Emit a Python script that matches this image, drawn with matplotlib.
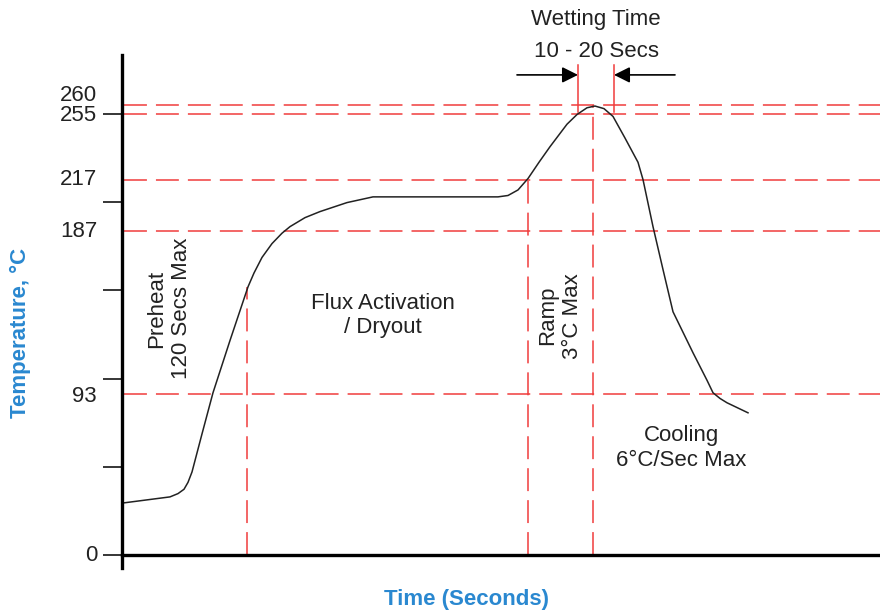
import matplotlib.pyplot as plt

plt.rcParams['font.family'] = ['Liberation Sans', 'DejaVu Sans']
plt.rcParams['lines.scale_dashes'] = False

# reflow profile (time in s, temperature in deg C)
time_s = [0, 48, 56, 62, 66, 70, 80, 91, 108, 126, 132, 140, 150, 160, 168, 183, 198, 225, 251,
          376, 386, 396, 406, 417, 428, 445, 455, 465, 473, 482, 491, 503, 516, 521, 531,
          541, 551, 571, 585, 591, 598, 605, 626]
temp_c = [30, 33.6, 35.5, 38, 42, 48, 70, 93.8, 124, 155, 163, 172, 180, 186, 189.8, 195, 198.5,
          203.7, 207, 207, 207.8, 211, 217.6, 227, 236, 249, 254.6, 258.5, 259.5, 258, 253.5,
          241, 227, 217, 189.8, 165, 140.6, 116.9, 101, 93.8, 90.5, 88, 82.2]

# horizontal reference temperatures
ref_temps = [260, 255, 217, 187, 93]
# vertical reference lines: (time, top temperature)
ref_times = [125, 406, 471]
ref_tops = [155, 217, 260]
# wetting window
wet_start, wet_end = 456, 492

tick_labels = [0, 93, 187, 217, 255, 260]
label_dy = [0, -2, 0, 0, -1, 7]  # pt offsets so labels don't collide
major_ticks = [0, 51, 102, 153, 204, 255]

red = '#f03c3c'
blue = '#2a88d0'
fs = 16

fig = plt.figure(figsize=(8.8, 6.13), dpi=100)
ax = fig.add_axes([122 / 880, 45 / 613, 758 / 880, 513 / 613])
ax.set_xlim(0, 758)
ax.set_ylim(-7.5, 289)

for sp in ['top', 'right']:
    ax.spines[sp].set_visible(False)
ax.spines['bottom'].set_position(('data', 0))
ax.spines['left'].set_linewidth(2.4)
ax.spines['bottom'].set_linewidth(2.4)
ax.set_xticks([])
ax.set_yticks(major_ticks)
ax.set_yticklabels([])
ax.tick_params(axis='y', length=14, width=1.1, color='black')

dash = (0, (16.5, 6.5))
for t in ref_temps:
    ax.plot([2, 758], [t, t], color=red, lw=1.1, linestyle=dash)
for t, top in zip(ref_times, ref_tops):
    ax.plot([t, t], [0, top], color=red, lw=1.1, linestyle=dash)
for t in [wet_start, wet_end]:
    ax.plot([t, t], [256, 283], color=red, lw=1.1, clip_on=False)

ax.plot(time_s, temp_c, color='#222222', lw=1.1, solid_joinstyle='round')

arrow_y = 277.5
ax.annotate('', xy=(wet_start, arrow_y), xytext=(395, arrow_y),
            arrowprops=dict(arrowstyle='-|>', color='black', lw=1.2,
                            mutation_scale=24, shrinkA=0, shrinkB=0))
ax.annotate('', xy=(wet_end, arrow_y), xytext=(553, arrow_y),
            arrowprops=dict(arrowstyle='-|>', color='black', lw=1.2,
                            mutation_scale=24, shrinkA=0, shrinkB=0))

for v, dy in zip(tick_labels, label_dy):
    ax.annotate(str(v), xy=(0, v), xytext=(-18, dy), textcoords='offset points',
                ha='right', va='center', fontsize=fs, color='#222222', annotation_clip=False)

txt = dict(fontsize=fs, color='#222222', ha='center', va='center', multialignment='center')
ax.text(474, 309.6, 'Wetting Time', clip_on=False, **txt)
ax.text(474, 291, '10 - 20 Secs', clip_on=False, **txt)
ax.text(47, 142.4, 'Preheat\n120 Secs Max', rotation=90, **txt)
ax.text(261, 138.3, 'Flux Activation\n/ Dryout', **txt)
ax.text(438, 138.3, 'Ramp\n3°C Max', rotation=90, **txt)
ax.text(559, 61.9, 'Cooling\n6°C/Sec Max', **txt)

fig.text(20 / 880, 1 - 333 / 613, 'Temperature, °C', rotation=90, ha='center', va='center',
         fontsize=fs, fontweight='bold', color=blue)
fig.text(467 / 880, 1 - 600 / 613, 'Time (Seconds)', ha='center', va='center',
         fontsize=fs, fontweight='bold', color=blue)

fig.savefig('out.png', dpi=100)
